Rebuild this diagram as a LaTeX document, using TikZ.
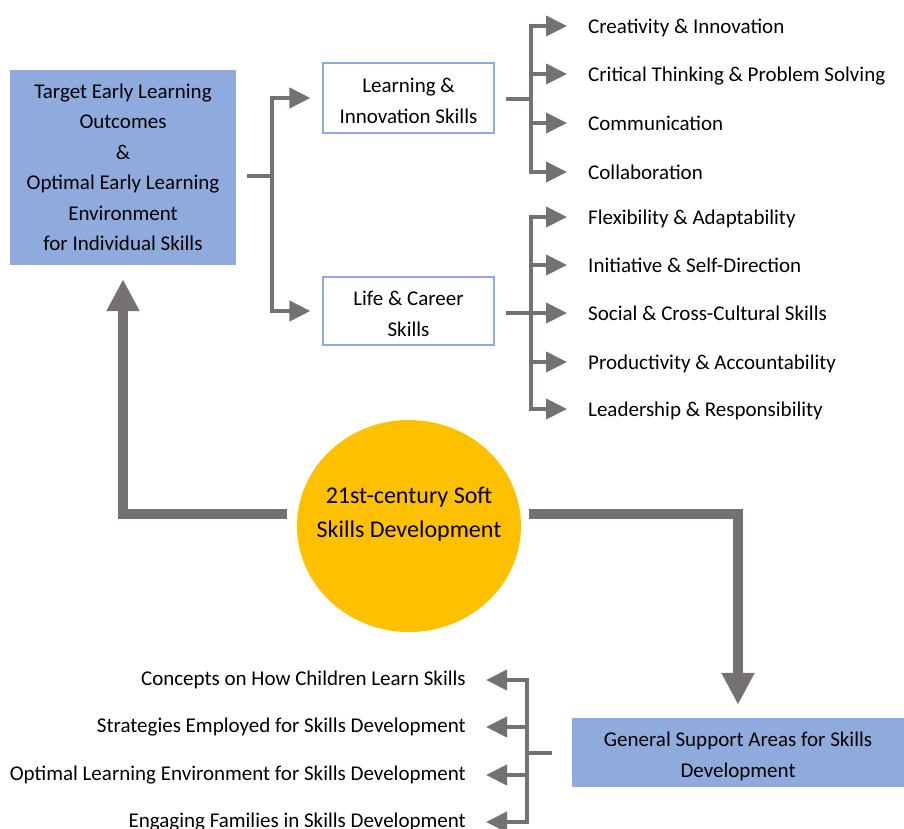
\documentclass[tikz,border=0pt]{standalone}
\usepackage{fontspec}
\setmainfont{Carlito}
\usetikzlibrary{arrows.meta,shapes.geometric,calc}
\definecolor{linkgray}{HTML}{767171}
\definecolor{panelblue}{HTML}{8FAADC}
\definecolor{coreyellow}{HTML}{FFC000}
\begin{document}
\begin{tikzpicture}[x=1pt,y=-1pt,
  txt/.style={font=\fontsize{21}{30.5}\selectfont, align=center, inner sep=0pt},
  bluebox/.style={inner sep=0pt, fill=panelblue},
  whitebox/.style={inner sep=0pt, fill=white, draw=panelblue, line width=1.2pt},
  item/.style={font=\fontsize{21}{25}\selectfont, inner sep=0pt, text height=16pt, text depth=1pt},
  supitem/.style={font=\fontsize{21}{25}\selectfont, inner sep=0pt, text height=15pt, text depth=4pt},
  conn/.style={draw=linkgray, line width=4pt},
  arr/.style={conn, line join=miter, -{Triangle[length=21pt,width=20pt]}},
  bigarr/.style={draw=linkgray, line width=10pt, line join=miter, -{Triangle[length=32pt,width=31pt]}}
]
\useasboundingbox (0,0) rectangle (904,828);

% main boxes and their captions
\node[bluebox, minimum width=226pt, minimum height=195pt] (tel) at (123,167.5) {};
\node[txt] (teltext) at (123,167.5)
  {Target Early Learning\\Outcomes\\\&\\Optimal Early Learning\\Environment\\for Individual Skills};
\node[whitebox, minimum width=171pt, minimum height=70pt] (lis) at (408.5,98) {};
\node[txt] (listext) at (408.5,101) {Learning \&\\Innovation Skills};
\node[whitebox, minimum width=171pt, minimum height=68pt] (lcs) at (408.5,311) {};
\node[txt] (lcstext) at (408.5,314) {Life \& Career\\Skills};
\node[bluebox, minimum width=332pt, minimum height=69pt] (gsa) at (738,752.5) {};
\node[txt] (gsatext) at (738,756.5) {General Support Areas for Skills\\Development};

% central ellipse
\node[ellipse, fill=coreyellow, minimum width=224pt, minimum height=212pt, inner sep=0pt] (core) at (409,526) {};
\node[font=\fontsize{24}{34.5}\selectfont, align=center, inner sep=0pt] (coretext) at (409,514)
  {21st-century Soft\\Skills Development};

% learning & innovation skills
\node[item, anchor=west] (i1) at (588,26)  {Creativity \& Innovation};
\node[item, anchor=west] (i2) at (588,74)  {Critical Thinking \& Problem Solving};
\node[item, anchor=west] (i3) at (588,123) {Communication};
\node[item, anchor=west] (i4) at (588,172) {Collaboration};

% life & career skills
\node[item, anchor=west] (i5) at (588,217) {Flexibility \& Adaptability};
\node[item, anchor=west] (i6) at (588,265) {Initiative \& Self-Direction};
\node[item, anchor=west] (i7) at (588,313) {Social \& Cross-Cultural Skills};
\node[item, anchor=west] (i8) at (588,362) {Productivity \& Accountability};
\node[item, anchor=west] (i9) at (588,409) {Leadership \& Responsibility};

% general support areas
\node[supitem, anchor=east] (s1) at (466,680) {Concepts on How Children Learn Skills};
\node[supitem, anchor=east] (s2) at (466,727) {Strategies Employed for Skills Development};
\node[supitem, anchor=east] (s3) at (466,775) {Optimal Learning Environment for Skills Development};
\node[supitem, anchor=east] (s4) at (466,822) {Engaging Families in Skills Development};

% branch points
\coordinate (b0) at (272,176);
\coordinate (b1) at (531,99);
\coordinate (b2) at (531,313);
\coordinate (b3) at (527,753);

% outcomes -> skill groups
\draw[conn, shorten <=11pt] (tel.east |- b0) -- (b0);
\draw[arr, shorten >=12pt] (b0) |- (lis.west);
\draw[arr, shorten >=12pt] (b0) |- (lcs.west);

% skill groups -> individual skills
\draw[conn, shorten <=11pt] (lis.east |- b1) -- (b1);
\foreach \k in {i1,i2,i3,i4} \draw[arr, shorten >=21pt] (b1) |- (\k.west);
\draw[conn, shorten <=11pt] (lcs.east |- b2) -- (b2);
\foreach \k in {i5,i6,i7,i8,i9} \draw[arr, shorten >=21pt] (b2) |- (\k.west);

% support areas -> topics
\draw[conn, shorten <=20pt] (gsa.west |- b3) -- (b3);
\foreach \k in {s1,s2,s3,s4} \draw[arr, shorten >=20pt] (b3) |- (\k.east);

% central hub -> both sides
\draw[bigarr, shorten >=14pt] ($(coretext.center -| core.west)+(-10,0)$) -| (tel.south);
\draw[bigarr, shorten >=13pt] ($(coretext.center -| core.east)+(8,0)$) -| (gsa.north);
\end{tikzpicture}
\end{document}
